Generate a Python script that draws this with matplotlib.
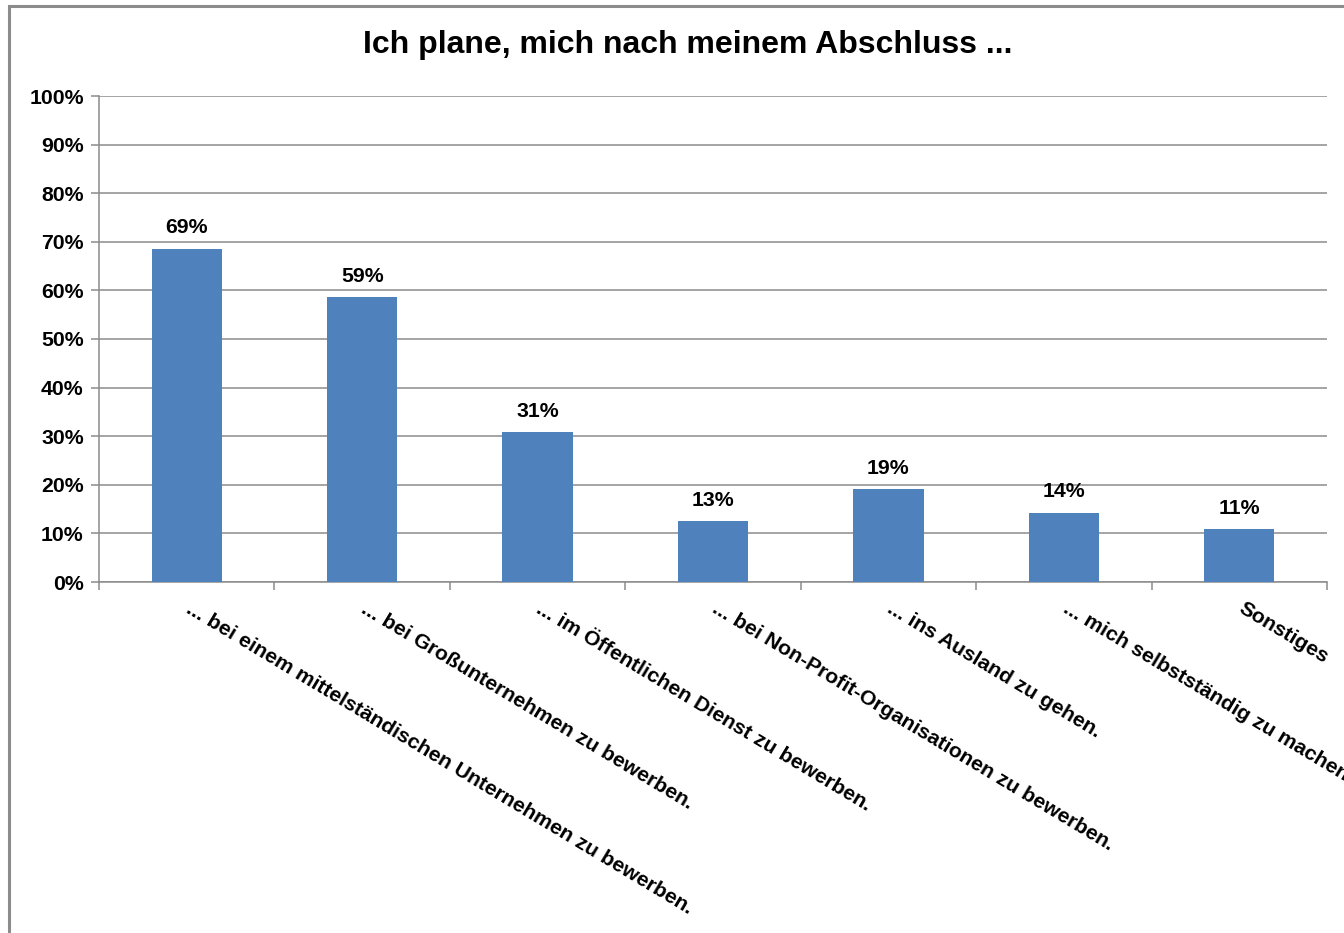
import matplotlib.pyplot as plt
import matplotlib.patches as patches
import numpy as np

plt.rcParams['font.family'] = ['Liberation Sans', 'DejaVu Sans']

title = "Ich plane, mich nach meinem Abschluss ..."
categories = [
    "... bei einem mittelständischen Unternehmen zu bewerben.",
    "... bei Großunternehmen zu bewerben.",
    "... im Öffentlichen Dienst zu bewerben.",
    "... bei Non-Profit-Organisationen zu bewerben.",
    "... ins Ausland zu gehen.",
    "... mich selbstständig zu machen.",
    "Sonstiges",
]
values = [68.6, 58.7, 30.9, 12.6, 19.1, 14.3, 10.9]
yticks = [0, 10, 20, 30, 40, 50, 60, 70, 80, 90, 100]

W, H = 1344, 933
fig = plt.figure(figsize=(W / 100, H / 100), dpi=100)
fig.patch.set_facecolor("white")

# outer chart border (cropped on right and bottom)
fig.add_artist(patches.Rectangle((9 / W, -0.1), 1.2, 1 - 6 / H + 0.1,
                                 transform=fig.transFigure, fill=False,
                                 edgecolor="#8c8c8c", linewidth=2.2, clip_on=False))

ax = fig.add_axes([99 / W, 1 - 582 / H, (1327 - 99) / W, (582 - 96) / H])
x = np.arange(len(categories))
ax.bar(x, values, width=0.4, color="#4f81bd", zorder=3)

ax.set_xlim(-0.5, len(categories) - 0.5)
ax.set_ylim(0, 100)
ax.set_yticks(yticks)
ax.set_yticklabels([f"{v}%" for v in yticks], fontsize=15.3, fontweight="bold")
ax.yaxis.grid(True, color="#8c8c8c", linewidth=1.1, zorder=0)

ax.set_xticks(np.arange(len(categories) + 1) - 0.5)
ax.set_xticklabels([])
ax.tick_params(axis="both", direction="out", length=6, color="#8c8c8c", width=1.1)
ax.tick_params(axis="y", pad=5)

for s in ["top", "right"]:
    ax.spines[s].set_visible(False)
for s in ["left", "bottom"]:
    ax.spines[s].set_color("#8c8c8c")
    ax.spines[s].set_linewidth(1.1)

for xi, v in zip(x, values):
    ax.annotate(f"{round(v)}%", (xi, v), xytext=(0, 8), textcoords="offset points",
                ha="center", va="bottom", fontsize=15.3, fontweight="bold")

for xi, lab in zip(x, categories):
    ax.annotate(lab, (xi, 0), xytext=(4, -12), textcoords="offset points",
                ha="left", va="top", rotation=-31, rotation_mode="anchor",
                fontsize=15.2, fontweight="bold", annotation_clip=False)

fig.text(688 / W, 1 - 45 / H, title, ha="center", va="center",
         fontsize=23, fontweight="bold")

fig.savefig("out.png", dpi=100)
